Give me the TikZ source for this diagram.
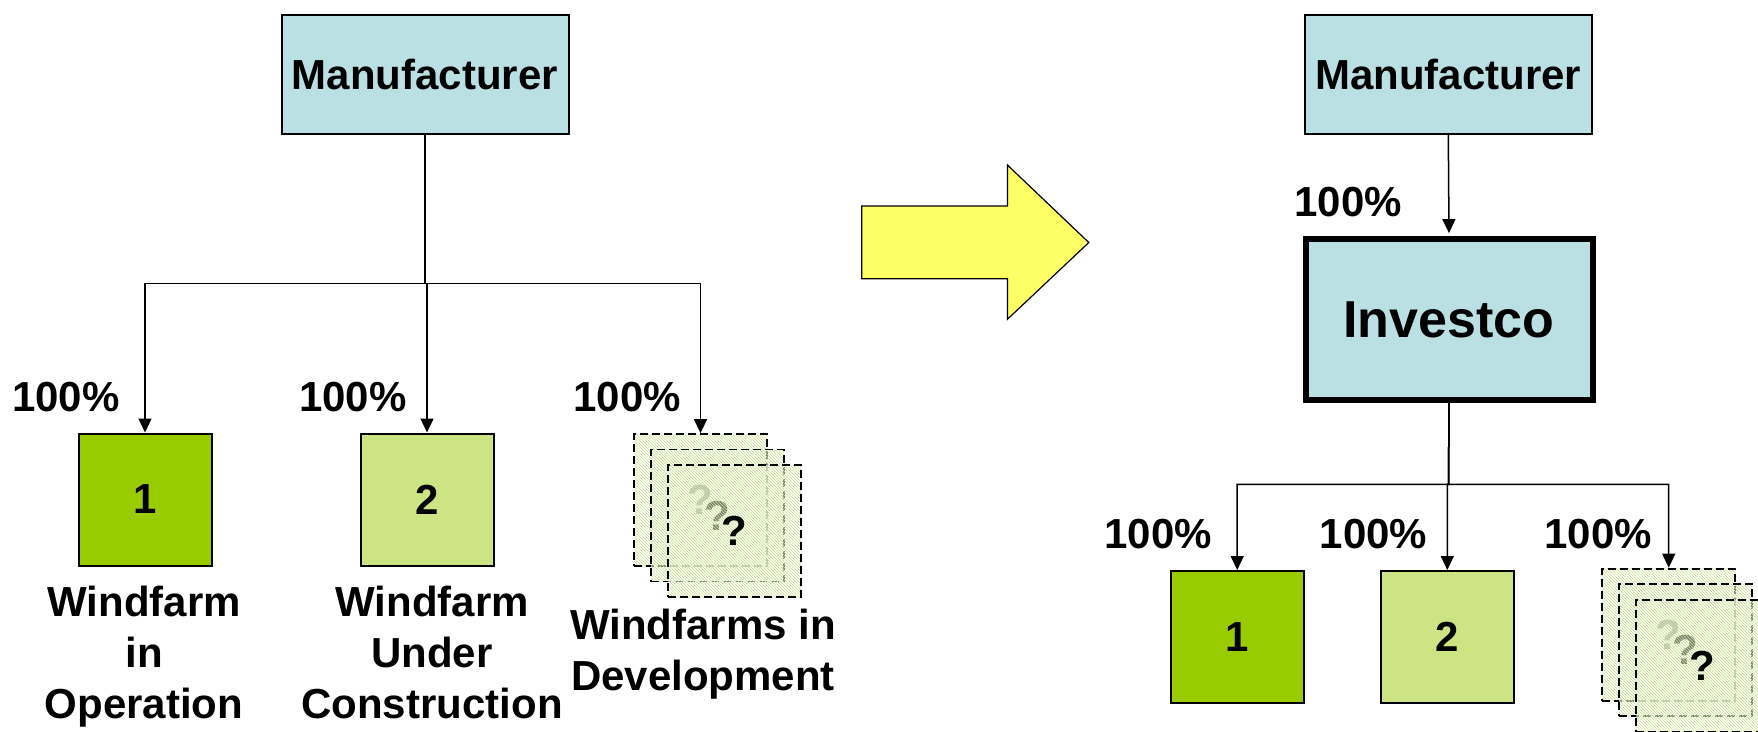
\documentclass[tikz,border=0pt]{standalone}
\usepackage{fontspec}
\setmainfont{Liberation Sans}
\usetikzlibrary{arrows.meta,patterns}
\definecolor{mfblue}{RGB}{186,224,227}
\definecolor{wfone}{RGB}{153,204,0}
\definecolor{wftwo}{RGB}{204,228,131}
\definecolor{arrowyel}{RGB}{255,255,102}
\definecolor{hatchgreen}{RGB}{200,222,140}
\begin{document}
\begin{tikzpicture}[x=1pt,y=-1pt,
  bigfont/.style={font=\fontsize{42}{51}\selectfont\bfseries},
  txt/.style={bigfont, inner sep=0pt, align=center, anchor=north},
  pct/.style={bigfont, inner sep=0pt, anchor=base},
  mfbox/.style={draw, line width=2pt, fill=mfblue, minimum width=287pt, minimum height=119pt, inner sep=0pt, bigfont},
  invbox/.style={draw, line width=6pt, fill=mfblue, minimum width=287pt, minimum height=161pt, inner sep=0pt, font=\fontsize{52}{60}\selectfont\bfseries},
  farm/.style={draw, line width=2pt, minimum width=133pt, minimum height=132pt, inner sep=0pt, bigfont},
  devbox/.style={draw, dash pattern=on 8pt off 4pt, line width=1.8pt, minimum width=133pt, minimum height=132pt, inner sep=0pt,
     preaction={fill=white, fill opacity=0.5}, pattern=north west lines, pattern color=hatchgreen, bigfont},
  conn/.style={line width=1.5pt, -{Triangle[length=14pt,width=13pt]}},
  ]
\useasboundingbox (0,0) rectangle (1758,731);
\clip (0,0) rectangle (1758,731);

% ---------- left: before ----------
\node[mfbox] (m1) at (425,74) {Manufacturer};
\node[farm, fill=wfone] (w1) at (145,499.5) {1};
\node[farm, fill=wftwo] (w2) at (427,499.5) {2};
\node[devbox] (d1a) at (700.5,500) {?};
\node[devbox] (d1b) at (717.5,515.5) {?};
\node[devbox] (d1c) at (734.5,531) {?};

\coordinate (j1) at (425,283.7);
\draw[conn] (m1.south) -- (j1) -| (w1.north);
\draw[conn] (m1.south) -- (j1) -| (w2.north);
\draw[conn] (m1.south) -- (j1) -| (d1a.north);

\node[pct] (p1) at (66,411.7) {100\%};
\node[pct] (p2) at (353,411.7) {100\%};
\node[pct] (p3) at (627,411.7) {100\%};

\node[txt] (l1) at (144,586) {Windfarm\\in\\Operation};
\node[txt] (l2) at (432,586) {Windfarm\\Under\\Construction};
\node[txt] (l3) at (703,609.3) {Windfarms in\\Development};

% ---------- transition arrow ----------
\draw[line width=1.2pt, fill=arrowyel] (861.7,206) -- (1007.4,206) -- (1007.4,165) -- (1088.8,242.5)
  -- (1007.4,319.3) -- (1007.4,278.7) -- (861.7,278.7) -- cycle;

% ---------- right: after ----------
\node[mfbox] (m2) at (1448.3,74) {Manufacturer};
\node[invbox] (inv) at (1449,319.6) {Investco};
\node[farm, fill=wfone] (r1) at (1237.2,637) {1};
\node[farm, fill=wftwo] (r2) at (1447.3,637) {2};
\node[devbox] (d2a) at (1668.7,634.6) {?};
\node[devbox] (d2b) at (1685.7,650.1) {?};
\node[devbox] (d2c) at (1702.7,665.6) {?};

\draw[conn, shorten >=3pt] (m2.south) -- (inv.north);
\coordinate (j2) at (1448.5,484.3);
\draw[conn] (inv.south) -- (j2) -| (r1.north);
\draw[conn] (inv.south) -- (j2) -| (r2.north);
\draw[conn] (inv.south) -- (j2) -| (d2a.north);

\node[pct] (p0) at (1348,216.7) {100\%};
\node[pct] (p4) at (1158,548.3) {100\%};
\node[pct] (p5) at (1373.5,548.3) {100\%};
\node[pct] (p6) at (1598,548.3) {100\%};
\end{tikzpicture}
\end{document}
